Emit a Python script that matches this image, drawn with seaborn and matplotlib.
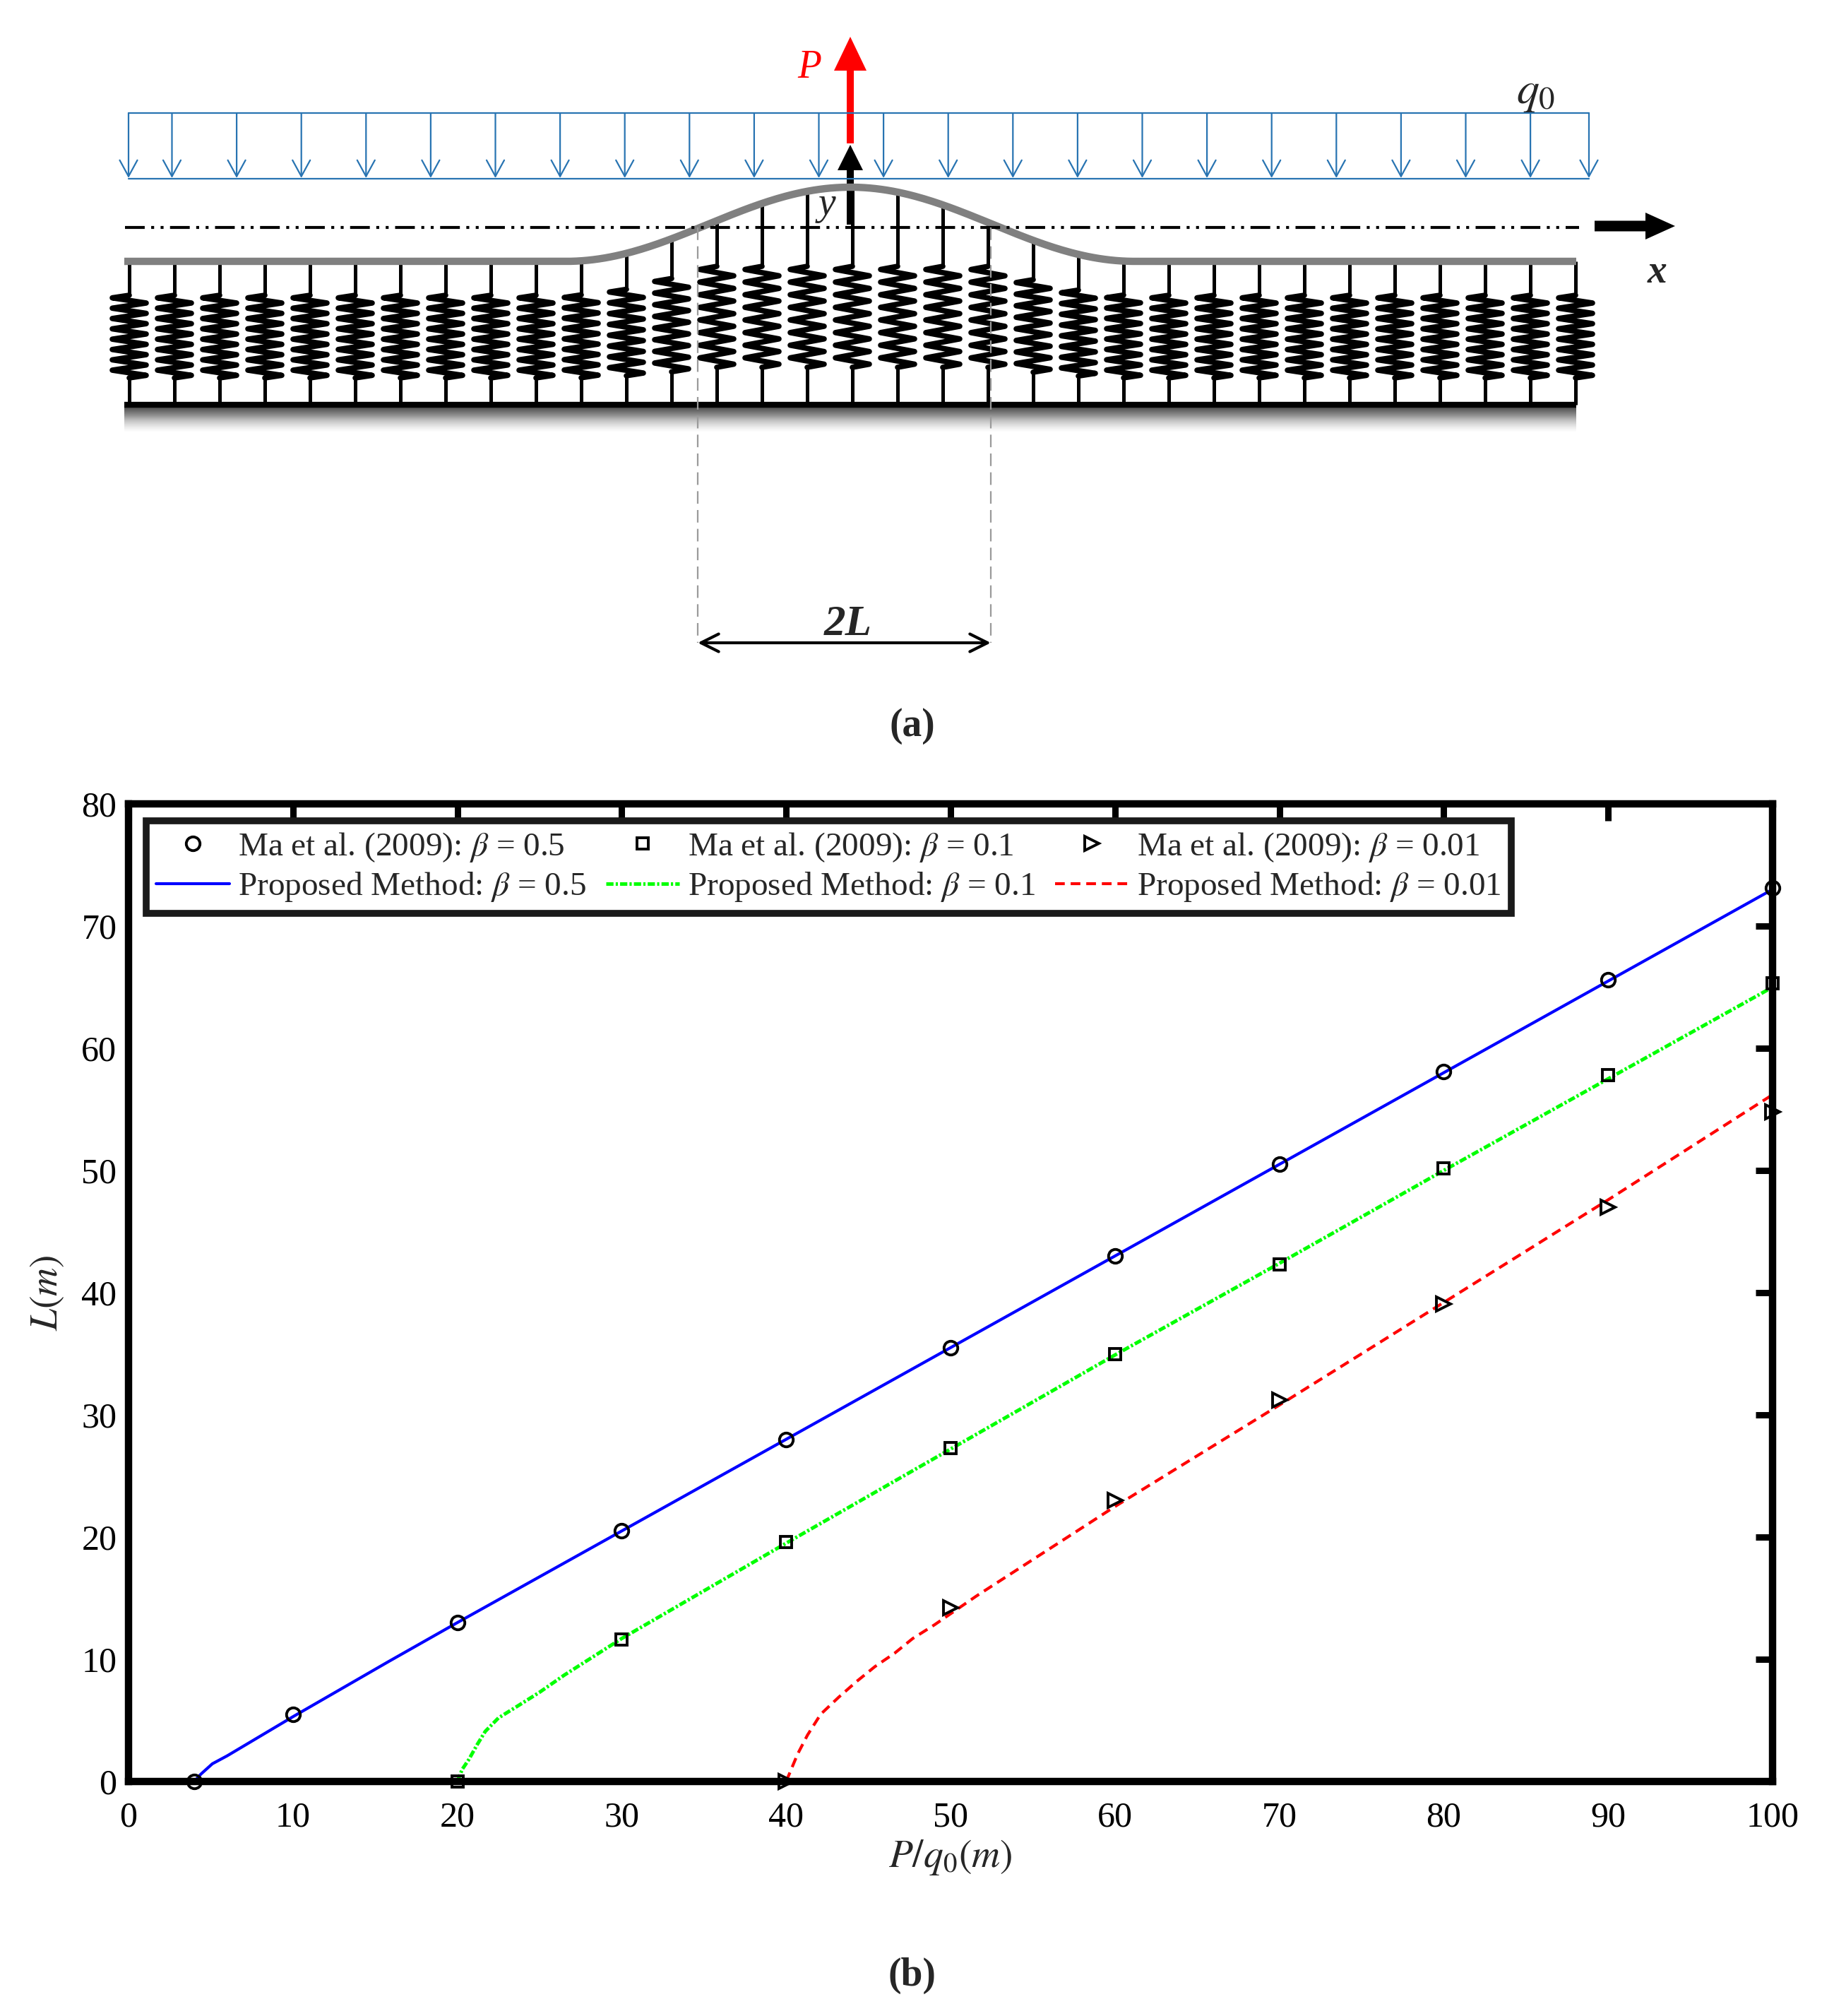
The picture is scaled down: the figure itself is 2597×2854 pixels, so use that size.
import numpy as np
import matplotlib
matplotlib.use("Agg")
import matplotlib.pyplot as plt
import seaborn as sns

# ---- data (P/q0 in m, L in m) ----
ma_x_05 = [4, 10, 20, 30, 40, 50, 60, 70, 80, 90, 100]
ma_y_05 = [0, 5.5, 13.0, 20.5, 28.0, 35.5, 43.0, 50.5, 58.1, 65.6, 73.1]
ma_x_01 = [20, 30, 40, 50, 60, 70, 80, 90, 100]
ma_y_01 = [0, 11.6, 19.6, 27.3, 35.0, 42.3, 50.2, 57.8, 65.3]
ma_x_001 = [40, 50, 60, 70, 80, 90, 100]
ma_y_001 = [0, 14.2, 23.0, 31.2, 39.1, 47.0, 54.8]

pm_x_05 = [4, 4.4, 5.1, 6, 8, 10, 15.8, 20, 30, 40, 50, 60, 70, 80, 90, 100]
pm_y_05 = [0, 0.6, 1.45, 2.1, 3.7, 5.3, 9.8, 13.0, 20.5, 28.0, 35.5, 43.0, 50.5, 58.0, 65.5, 73.0]
pm_x_01 = [20, 20.3, 20.7, 21.2, 21.7, 22.5, 23.7, 25, 26.5, 30, 40, 50, 60, 70, 80, 90, 100]
pm_y_01 = [0, 1.0, 1.8, 3.0, 4.1, 5.2, 6.2, 7.3, 8.7, 11.7, 19.5, 27.2, 34.9, 42.4, 50.0, 57.5, 65.0]
pm_x_001 = [40, 40.7, 41.3, 42.1, 43.2, 44.3, 45.4, 46.6, 47.7, 49, 51.6, 60, 70, 80, 90, 100]
pm_y_001 = [0, 2.25, 3.8, 5.5, 6.9, 8.2, 9.4, 10.5, 11.7, 12.8, 15.2, 22.5, 30.8, 39.2, 47.6, 56.2]

ma_labels = [r"Ma et al. (2009): $\beta$ = 0.5", r"Ma et al. (2009): $\beta$ = 0.1",
             r"Ma et al. (2009): $\beta$ = 0.01"]
pm_labels = [r"Proposed Method: $\beta$ = 0.5", r"Proposed Method: $\beta$ = 0.1",
             r"Proposed Method: $\beta$ = 0.01"]
x_ticks = [0, 10, 20, 30, 40, 50, 60, 70, 80, 90, 100]
y_ticks = [0, 10, 20, 30, 40, 50, 60, 70, 80]

sns.set_theme(style="white")
plt.rcParams['font.family'] = ['Liberation Serif', 'DejaVu Serif']
plt.rcParams['mathtext.fontset'] = 'stix'

W, H = 2597, 2854
fig = plt.figure(figsize=(W / 100, H / 100), dpi=100)

# ---------- (a) schematic, drawn in pixel coordinates ----------
sk = fig.add_axes([0, 0, 1, 1])
sk.set_xlim(0, W)
sk.set_ylim(H, 0)
sk.axis('off')

blue = '#2874b2'
sk.plot([182, 2250], [160, 160], color=blue, lw=1.6)
sk.plot([182, 2250], [253, 253], color=blue, lw=1.6)
load_x = [182] + [243.5 + 91.6 * k for k in range(22)] + [2250]
for lx in load_x:
    sk.annotate('', xy=(lx, 252), xytext=(lx, 160),
                arrowprops=dict(arrowstyle='->,head_length=0.55,head_width=0.3',
                                color=blue, lw=1.6, shrinkA=0, shrinkB=0, mutation_scale=30))
sk.text(2175, 132, r'$\mathit{q_0}$', fontsize=46, ha='center', va='center')

cx = 1204


def beam_y(x):
    d = abs(x - cx)
    if d >= 403:
        return 370.0
    return 370 - 105 * 0.5 * (1 + np.cos(np.pi * d / 403))


# springs
for sx in range(183, 2232, 64):
    f = (370 - beam_y(sx)) / 105
    g = min(1.0, 1.9 * f)
    top = 418 - 41 * g
    bot = 535 - 15 * g
    sk.plot([sx, sx], [beam_y(sx), top], color='black', lw=3.6, solid_capstyle='butt')
    sk.plot([sx, sx], [bot, 573], color='black', lw=3.6, solid_capstyle='butt')
    n = 16
    zx = [sx] + [sx - 24 if i % 2 == 0 else sx + 24 for i in range(n)] + [sx]
    zy = [top] + [top + (i + 0.5) * (bot - top) / n for i in range(n)] + [bot]
    sk.plot(zx, zy, color='black', lw=5.5, solid_joinstyle='round')

# ground
sk.plot([176, 2232], [573, 573], color='black', lw=6, solid_capstyle='butt')
grad = np.linspace(0.75, 0.0, 40)[:, None]
sk.imshow(grad, cmap='Greys', vmin=0, vmax=1, extent=(176, 2232, 612, 577), aspect='auto')
sk.set_xlim(0, W)
sk.set_ylim(H, 0)

# beam
bx = np.arange(176, 2233, 4)
sk.plot(bx, [beam_y(v) for v in bx], color='#808080', lw=7.5, solid_capstyle='butt')

# x axis (dash-dot) and arrows
sk.plot([177, 2236], [322, 322], color='black', lw=3, dashes=(6.7, 2.2, 1, 2.2, 1, 2.2))
sk.arrow(2258, 320, 114, 0, width=15, head_width=38, head_length=42,
         length_includes_head=True, fc='black', ec='none')
sk.arrow(cx, 318, 0, -113, width=10, head_width=36, head_length=36,
         length_includes_head=True, fc='black', ec='none')
sk.arrow(cx, 203, 0, -151, width=10, head_width=46, head_length=48,
         length_includes_head=True, fc='#ff0000', ec='none')
sk.text(1146, 96, 'P', fontsize=40, style='italic', color='#ff0000', ha='center', va='center')
sk.text(1171, 290, 'y', fontsize=40, style='italic', ha='center', va='center')
sk.text(2347, 386, 'x', fontsize=40, style='italic', weight='bold', ha='center', va='center')

# 2L dimension
for dx in (988, 1403):
    sk.plot([dx, dx], [322, 910], color='#9a9a9a', lw=1.6, dashes=(8, 4))
sk.annotate('', xy=(988, 910), xytext=(1403, 910),
            arrowprops=dict(arrowstyle='<->,head_length=0.6,head_width=0.3',
                            color='black', lw=3, shrinkA=0, shrinkB=0, mutation_scale=30))
sk.text(1201, 884, '2L', fontsize=44, style='italic', weight='bold', ha='center', va='center')

sk.text(1292, 1028, '(a)', fontsize=40, weight='bold', ha='center', va='center')
sk.text(1292, 2797, '(b)', fontsize=40, weight='bold', ha='center', va='center')

# ---------- (b) chart ----------
ax = fig.add_axes([182 / W, 1 - 2522 / H, (2510 - 182) / W, (2522 - 1138) / H])
ax.set_facecolor('white')

sns.lineplot(x=pm_x_05, y=pm_y_05, ax=ax, color='#0000ff', lw=3, estimator=None,
             sort=False, label=pm_labels[0], clip_on=False)
sns.lineplot(x=pm_x_01, y=pm_y_01, ax=ax, color='#00ff00', lw=3.6, estimator=None,
             sort=False, label=pm_labels[1], linestyle=(0, (2.05, 0.62, 0.62, 0.62)))
sns.lineplot(x=pm_x_001, y=pm_y_001, ax=ax, color='#ff0000', lw=3, estimator=None,
             sort=False, label=pm_labels[2], linestyle=(0, (3.3, 2.0)))

mk = dict(color='black', linestyle='none', markerfacecolor='none', markeredgecolor='black',
          markeredgewidth=2.8, estimator=None, sort=False, clip_on=False)
sns.lineplot(x=ma_x_05, y=ma_y_05, ax=ax, marker='o', markersize=14, label=ma_labels[0], **mk)
sns.lineplot(x=ma_x_01, y=ma_y_01, ax=ax, marker='s', markersize=11, label=ma_labels[1], **mk)
sns.lineplot(x=ma_x_001, y=ma_y_001, ax=ax, marker='>', markersize=14, label=ma_labels[2], **mk)

ax.set_xlim(0, 100)
ax.set_ylim(0, 80)
ax.set_xticks(x_ticks)
ax.set_yticks(y_ticks)
for s in ax.spines.values():
    s.set_visible(True)
    s.set_linewidth(7.5)
    s.set_color('black')
ax.tick_params(direction='in', length=17, width=6.5, top=True, right=True,
               labelsize=36, colors='black')
ax.tick_params(axis='x', pad=20)
ax.tick_params(axis='y', pad=12)
ax.set_xlabel(r'$P/q_0(m)$', fontsize=40, labelpad=4)
ax.set_ylabel(r'$L(m)$', fontsize=40, labelpad=16)

handles, labels = ax.get_legend_handles_labels()
hmap = dict(zip(labels, handles))
order = [ma_labels[0], pm_labels[0], ma_labels[1], pm_labels[1], ma_labels[2], pm_labels[2]]
leg = ax.legend([hmap[l] for l in order], order, ncol=3, loc='upper left',
                bbox_to_anchor=(0.0107, 0.983), borderaxespad=0, fontsize=34,
                frameon=True, fancybox=False, framealpha=1, handlelength=2.2,
                handletextpad=0.25, columnspacing=0.6, labelspacing=0.2, borderpad=0.3)
leg.get_frame().set_edgecolor('#1a1a1a')
leg.get_frame().set_linewidth(7)

fig.savefig('out.png', dpi=100)
